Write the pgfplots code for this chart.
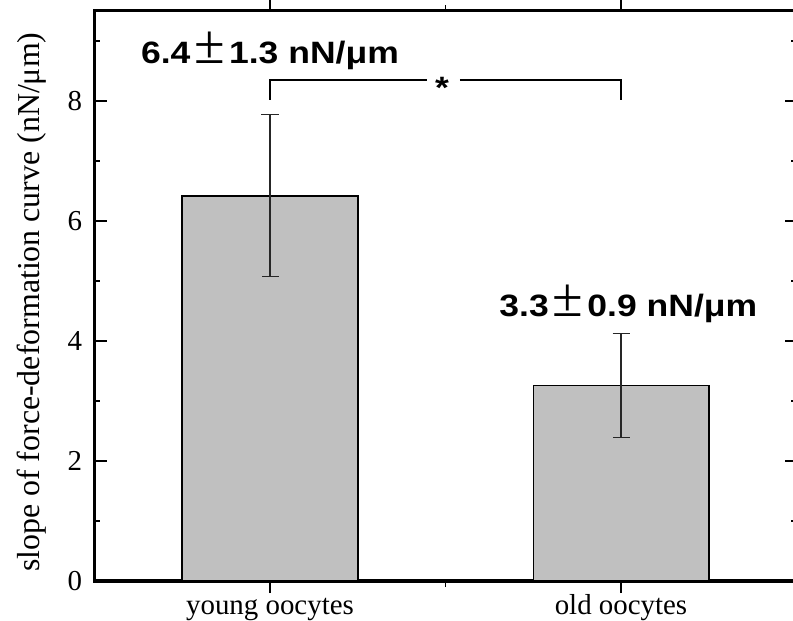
\documentclass[border=0pt]{standalone}
\usepackage{fontspec}
\setmainfont{Liberation Serif}
\newfontfamily\annfont{Liberation Sans}[FakeStretch=1.15]
\usepackage{pgfplots}
\pgfplotsset{compat=1.18}
\definecolor{barfill}{RGB}{192,192,192}
\newcommand\annpm{{\rmfamily\mdseries\fontsize{56}{56}\selectfont\hspace{4bp}±\hspace{4bp}}}
\newcommand\annsize{\annfont\bfseries\fontsize{31}{33}\selectfont}

\begin{document}
\begin{tikzpicture}
\begin{axis}[
  scale only axis,
  width=702bp, height=570bp,
  xmin=-0.5, xmax=1.5,
  ymin=0, ymax=9.5,
  xtick={0,1},
  xticklabels={young oocytes, old oocytes},
  minor xtick={0.5},
  ytick={0,2,4,6,8},
  minor ytick={1,3,5,7,9},
  tick align=inside,
  major tick length=12bp,
  minor tick length=6bp,
  every tick/.style={black, line width=1.5bp},
  axis line style={line width=3bp},
  tick label style={font=\fontsize{29}{32}\selectfont},
  /pgf/number format/assume math mode=true,
  yticklabel style={xshift=-9bp},
  xticklabel style={text height=0.72em, text depth=0.22em, yshift=-11bp},
  every axis y label/.style={at={(axis description cs:-0.0890,0.489)}, rotate=90,
    anchor=center, font=\fontsize{32}{34}\selectfont},
  ylabel={slope of force-deformation curve (nN/μm)},
  clip=false,
  ybar,
  bar width=0.5,
]
\addplot[fill=barfill, draw=black, line width=1.5bp,
  error bars/.cd, y dir=both, y explicit,
  error bar style={line width=1.2bp, black!85},
  error mark options={rotate=90, mark size=8.5bp, line width=1.2bp, black!85}]
  table[x=x, y=y, y error=e] {
x y e
0 6.42 1.35
1 3.26 0.87
};

% significance bracket between the two groups
\draw[line width=1.5bp] (axis cs:0,8.02) -- (axis cs:0,8.35) -- (axis cs:0.447,8.35);
\draw[line width=1.5bp] (axis cs:0.541,8.35) -- (axis cs:1,8.35) -- (axis cs:1,8.02);
\node[anchor=base, inner sep=0pt, font=\annsize] at (axis cs:0.49,8.04) {*};

% mean ± SD labels
\node[anchor=base, inner sep=0pt, font=\annsize] at (axis cs:0,8.62) {6.4\annpm1.3 nN/μm};
\node[anchor=base, inner sep=0pt, font=\annsize] at (axis cs:1.021,4.4) {3.3\annpm0.9 nN/μm};

\coordinate (sw) at (rel axis cs:0,0);
\coordinate (ne) at (rel axis cs:1,1);
\end{axis}
\pgfresetboundingbox
\path ([xshift=-94.5bp,yshift=-40bp]sw) rectangle ([xshift=-3.5bp,yshift=11bp]ne);
\end{tikzpicture}
\end{document}
